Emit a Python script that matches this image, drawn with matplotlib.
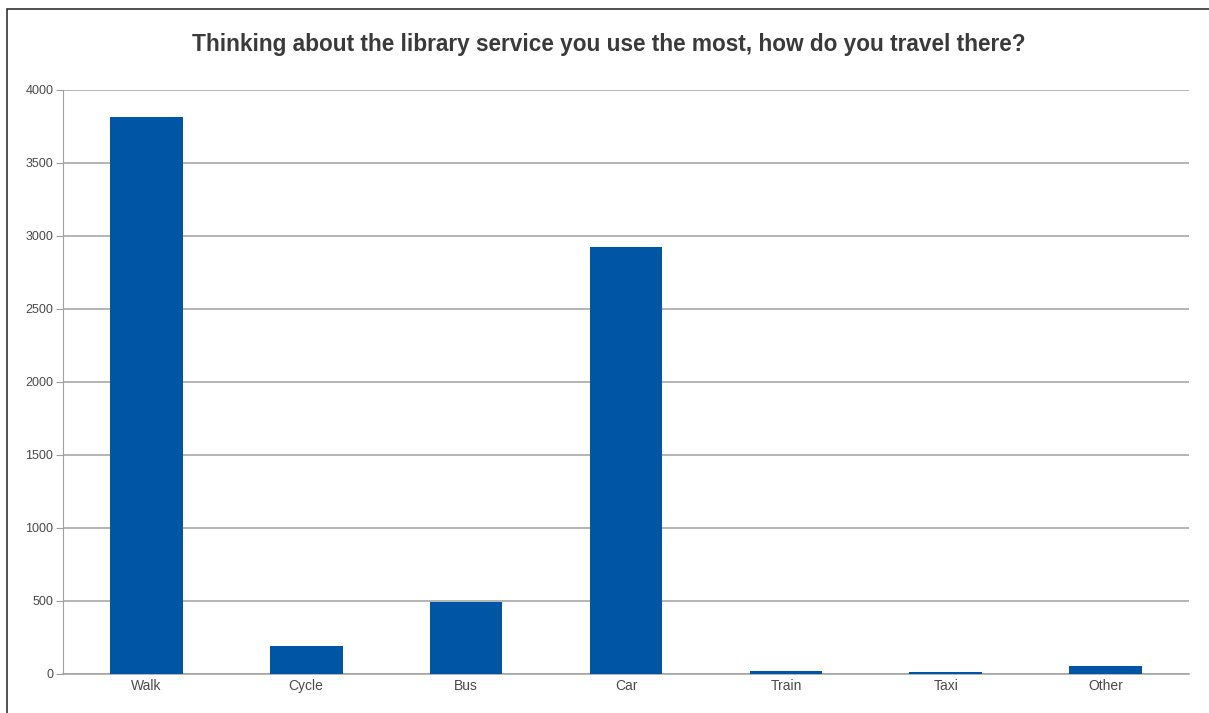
import matplotlib.pyplot as plt
from matplotlib.patches import Rectangle

# survey answers: how people travel to their main library
modes = ['Walk', 'Cycle', 'Bus', 'Car', 'Train', 'Taxi', 'Other']
counts = [3815, 188, 490, 2923, 17, 10, 51]
y_ticks = [0, 500, 1000, 1500, 2000, 2500, 3000, 3500, 4000]

plt.rcParams['font.family'] = ['Liberation Sans', 'DejaVu Sans']

fig = plt.figure(figsize=(12.09, 7.13), dpi=100)
ax = fig.add_axes([63 / 1209, (713 - 673.5) / 713, (1189 - 63) / 1209, (673.5 - 90) / 713])

x = range(len(modes))
ax.bar(x, counts, width=0.455, color='#0055a5', zorder=3)

ax.set_xlim(-0.52, len(modes) - 0.48)
ax.set_ylim(0, 4000)
ax.set_yticks(y_ticks)
ax.set_xticks(list(x))
ax.set_xticklabels(modes)
ax.yaxis.grid(True, color='#a0a0a0', linewidth=1.1, zorder=0)
ax.tick_params(axis='y', length=5, color='#a0a0a0', labelsize=9, labelcolor='#4a4a4a', pad=2)
ax.tick_params(axis='x', length=0, labelsize=10, labelcolor='#4a4a4a', pad=4)

for side in ['top', 'right']:
    ax.spines[side].set_visible(False)
ax.spines['left'].set_color('#a0a0a0')
ax.spines['bottom'].set_color('#a0a0a0')
ax.spines['bottom'].set_linewidth(1.1)

fig.text(609 / 1209, 1 - 44 / 713, 'Thinking about the library service you use the most, how do you travel there?',
         ha='center', va='center', fontsize=16.3, fontweight='bold', color='#3a3a3a')

# frame around the chart, running off the right and bottom edges
fig.patches.append(Rectangle((7 / 1209, -0.1), 1.2, 1 - 9 / 713 + 0.1, transform=fig.transFigure,
                             fill=False, edgecolor='#333333', linewidth=1.2))

fig.savefig('out.png', dpi=100)
